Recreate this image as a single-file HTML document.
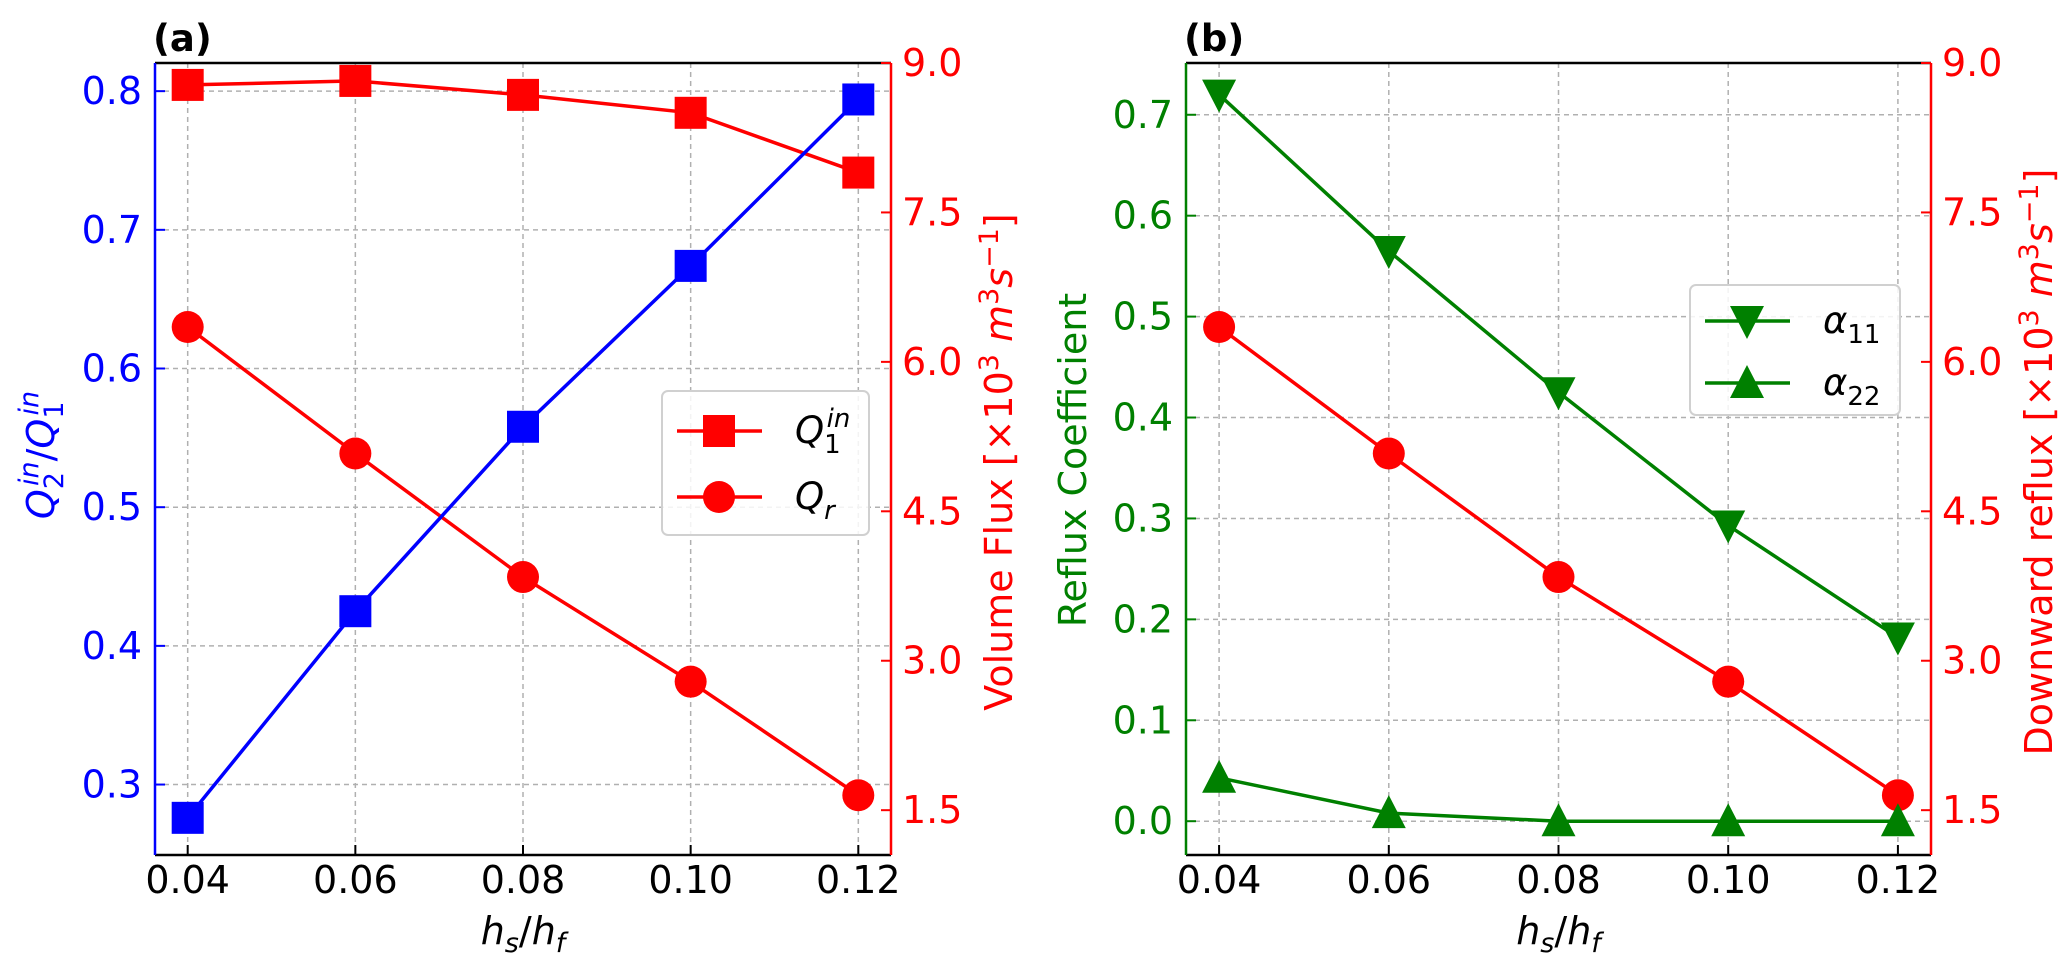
<!DOCTYPE html>
<html><head><meta charset="utf-8"><style>
html,body{margin:0;padding:0;background:#fff}
svg{display:block}
text{font-family:"DejaVu Sans","Liberation Sans",sans-serif}
</style></head><body>
<svg id="fig" width="2067" height="965" viewBox="0 0 2067 965" xmlns="http://www.w3.org/2000/svg"></svg>
<script>
const xCats = [0.04, 0.06, 0.08, 0.10, 0.12];
const xTickLabels = ["0.04", "0.06", "0.08", "0.10", "0.12"];
const ratioQ2Q1 = [0.276, 0.425, 0.558, 0.674, 0.794];
const q1In = [8.78, 8.82, 8.68, 8.50, 7.90];
const qR = [6.35, 5.08, 3.84, 2.79, 1.65];
const alpha11 = [0.720, 0.565, 0.425, 0.293, 0.182];
const alpha22 = [0.043, 0.008, 0.0, 0.0, 0.0];
const leftTicksA = [0.3, 0.4, 0.5, 0.6, 0.7, 0.8];
const leftTicksB = [0.0, 0.1, 0.2, 0.3, 0.4, 0.5, 0.6, 0.7];
const rightTicks = [1.5, 3.0, 4.5, 6.0, 7.5, 9.0];

const svg = document.getElementById('fig');
const NS = 'http://www.w3.org/2000/svg';
function el(tag, attrs, parent, text) {
  const e = document.createElementNS(NS, tag);
  for (const k in attrs) e.setAttribute(k, attrs[k]);
  if (text !== undefined) e.textContent = text;
  (parent || svg).appendChild(e);
  return e;
}
function lin(d0, d1, r0, r1) { return v => r0 + (v - d0) / (d1 - d0) * (r1 - r0); }

const TOP = 63, BOT = 855;
const panels = [
  {id:'a', L:155, R:891, ylo:0.2492, yhi:0.8203, lcol:'#0000ff', lticks:leftTicksA, rlabel:'Volume Flux', llabel:'ratio', title:'(a)'},
  {id:'b', L:1186, R:1931, ylo:-0.0335, yhi:0.7513, lcol:'#008000', lticks:leftTicksB, rlabel:'Downward reflux', llabel:'Reflux Coefficient', title:'(b)'}
];

panels.forEach(p => {
  const g = el('g', {});
  
  
  const X = lin(0.0361, 0.1239, p.L, p.R);
  const Y = lin(p.ylo, p.yhi, BOT, TOP);
  const YR = lin(1.05, 9.0, BOT, TOP);
  xCats.forEach((v, i) => {
    const ln = el('line', {x1:X(v), x2:X(v), y1:TOP, y2:BOT, stroke:'#b0b0b0', 'stroke-width':1.5, 'stroke-dasharray':'5,4'}, g);
    
    
  });
  p.lticks.forEach(v => {
    const ln = el('line', {x1:p.L, x2:p.R, y1:Y(v), y2:Y(v), stroke:'#b0b0b0', 'stroke-width':1.5, 'stroke-dasharray':'5,4'}, g);
    
    
  });
  el('line', {x1:p.L, x2:p.R, y1:TOP, y2:TOP, stroke:'#000', 'stroke-width':2.5}, g);
  el('line', {x1:p.L, x2:p.R, y1:BOT, y2:BOT, stroke:'#000', 'stroke-width':2.5}, g);
  const ls = el('line', {x1:p.L, x2:p.L, y1:TOP, y2:BOT, stroke:p.lcol, 'stroke-width':2.5}, g);
  
  
  const rs = el('line', {x1:p.R, x2:p.R, y1:TOP, y2:BOT, stroke:'#ff0000', 'stroke-width':2.5}, g);
  
  
  xCats.forEach((v, i) => {
    el('line', {x1:X(v), x2:X(v), y1:BOT, y2:BOT-10, stroke:'#000', 'stroke-width':2}, g);
    const t = el('text', {x:X(v), y:893, 'font-size':38, 'text-anchor':'middle', fill:'#000'}, g, xTickLabels[i]);
    
    
  });
  p.lticks.forEach(v => {
    el('line', {x1:p.L, x2:p.L+10, y1:Y(v), y2:Y(v), stroke:p.lcol, 'stroke-width':2}, g);
    const t = el('text', {x:p.L-13, y:Y(v)+13, 'font-size':38, 'text-anchor':'end', fill:p.lcol}, g, v.toFixed(1));
    
    
  });
  rightTicks.forEach(v => {
    el('line', {x1:p.R, x2:p.R-10, y1:YR(v), y2:YR(v), stroke:'#ff0000', 'stroke-width':2}, g);
    const t = el('text', {x:p.R+11, y:YR(v)+13, 'font-size':38, 'text-anchor':'start', fill:'#ff0000'}, g, v.toFixed(1));
    
    
  });
  const tt = el('text', {x:p.L - 2, y:51, 'font-size':37, 'font-weight':'bold', fill:'#000'}, g, p.title);
  
  
  const xl = el('text', {x:(p.L+p.R)/2, y:944, 'font-size':38, 'text-anchor':'middle', fill:'#000'}, g);
  
  
  xl.innerHTML = '<tspan font-style="italic">h</tspan><tspan font-style="italic" font-size="27" dy="8">s</tspan><tspan dy="-8">/</tspan><tspan font-style="italic">h</tspan><tspan font-style="italic" font-size="27" dy="8">f</tspan>';
  const rx = p.id === 'a' ? 1000 : 2040;
  const rl = el('text', {x:0, y:0, 'font-size':38, 'text-anchor':'middle', fill:'#ff0000', transform:`translate(${rx+12},462) rotate(-90)`}, g);
  
  
  rl.innerHTML = p.rlabel + ' [×10<tspan font-size="27" dy="-14">3</tspan><tspan dy="14" font-style="italic"> m</tspan><tspan font-size="27" dy="-14">3</tspan><tspan dy="14" font-style="italic">s</tspan><tspan font-size="27" dy="-14">−1</tspan><tspan dy="14">]</tspan>';
  if (p.id === 'a') {
    const ll = el('text', {x:0, y:0, 'font-size':38, 'text-anchor':'middle', fill:'#0000ff', transform:'translate(54,455) rotate(-90)'}, g);
    
    
    ll.innerHTML = '<tspan font-style="italic">Q</tspan><tspan font-size="27" dy="9">2</tspan><tspan font-size="27" font-style="italic" dx="-14" dy="-25">in</tspan><tspan dy="16">/</tspan><tspan font-style="italic">Q</tspan><tspan font-size="27" dy="9">1</tspan><tspan font-size="27" font-style="italic" dx="-14" dy="-25">in</tspan>';
  } else {
    const ll = el('text', {x:0, y:0, 'font-size':38, 'text-anchor':'middle', fill:'#008000', transform:'translate(1086,460) rotate(-90)'}, g, p.llabel);
    
    
  }

  function series(vals, yfn, color, marker, name) {
    const sg = el('g', {}, g);
    
    
    const pts = vals.map((v, i) => X(xCats[i]) + ',' + yfn(v)).join(' ');
    el('polyline', {points:pts, fill:'none', stroke:color, 'stroke-width':3.5}, sg);
    vals.forEach((v, i) => {
      const m = drawMarker(sg, marker, X(xCats[i]), yfn(v), color);
      
      
    });
  }
  if (p.id === 'a') {
    series(q1In, YR, '#ff0000', 'square', 'q1-in-series');
    series(qR, YR, '#ff0000', 'circle', 'qr-series');
    series(ratioQ2Q1, Y, '#0000ff', 'square', 'q2-q1-ratio-series');
    legend(g, 662, 391, 207, 144, [['square','#ff0000','Q','1','in'],['circle','#ff0000','Q','r','']]);
  } else {
    series(qR, YR, '#ff0000', 'circle', 'downward-reflux-series');
    series(alpha11, Y, '#008000', 'tdown', 'alpha11-series');
    series(alpha22, Y, '#008000', 'tup', 'alpha22-series');
    legend(g, 1690, 285, 210, 130, [['tdown','#008000','α','11',''],['tup','#008000','α','22','']]);
  }
});

function drawMarker(parent, type, x, y, c) {
  if (type === 'square') return el('rect', {x:x-16, y:y-16, width:32, height:32, fill:c}, parent);
  if (type === 'circle') return el('circle', {cx:x, cy:y, r:16, fill:c}, parent);
  if (type === 'tdown') return el('polygon', {points:`${x-17},${y-15} ${x+17},${y-15} ${x},${y+18}`, fill:c}, parent);
  return el('polygon', {points:`${x-17},${y+15} ${x+17},${y+15} ${x},${y-18}`, fill:c}, parent);
}
function legend(parent, x, y, w, h, items) {
  const lg = el('g', {}, parent);
  
  
  el('rect', {x:x, y:y, width:w, height:h, rx:6, fill:'#fff', 'fill-opacity':0.85, stroke:'#d0d0d0', 'stroke-width':2}, lg);
  items.forEach((it, i) => {
    const cy = y + (h === 144 ? 40 + i*66 : 36 + i*62);
    const eg = el('g', {}, lg);
    
    
    el('line', {x1:x+15, x2:x+100, y1:cy, y2:cy, stroke:it[1], 'stroke-width':3.5}, eg);
    drawMarker(eg, it[0], x+57, cy, it[1]);
    const t = el('text', {x:x+133, y:cy+12, 'font-size':37, fill:'#000'}, eg);
    if (it[4]) t.innerHTML = `<tspan font-style="italic">${it[2]}</tspan><tspan font-size="26" dy="10">${it[3]}</tspan><tspan font-size="26" font-style="italic" dx="-14" dy="-26">${it[4]}</tspan>`;
    else t.innerHTML = `<tspan font-style="italic">${it[2]}</tspan><tspan font-size="26" dy="10" ${it[2]==='Q'?'font-style="italic"':''}>${it[3]}</tspan>`;
  });
}
</script>
</body></html>
